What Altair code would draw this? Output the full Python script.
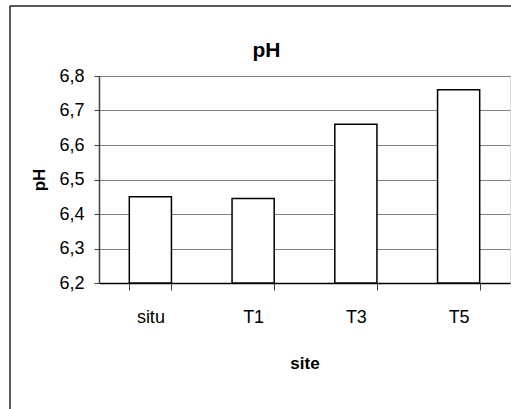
import altair as alt
import pandas as pd

sites = ["situ", "T1", "T3", "T5"]
ph_values = [6.45, 6.445, 6.66, 6.76]
y_ticks = [6.2, 6.3, 6.4, 6.5, 6.6, 6.7, 6.8]
y_base = 6.2

df = pd.DataFrame({"site": sites, "pH": ph_values})

FONT = "Liberation Sans"

bars = alt.Chart(df).mark_bar(
    fill="white", stroke="black", strokeWidth=1.5
).encode(
    x=alt.X(
        "site:N",
        sort=sites,
        scale=alt.Scale(paddingInner=0.59, paddingOuter=0.295),
        axis=alt.Axis(
            title="site",
            labelAngle=0,
            tickBand="extent",
            tickSize=7,
            tickColor="#404040",
            domainColor="black",
            domainWidth=1.5,
            labelPadding=18,
            labelFontSize=18,
            labelFont=FONT,
            labelColor="black",
            titleFont=FONT,
            titleFontSize=17,
            titleFontWeight="bold",
            titleColor="black",
            titlePadding=29,
            grid=False,
        ),
    ),
    y=alt.Y(
        "pH:Q",
        scale=alt.Scale(domain=[6.2, 6.8], nice=False, zero=False),
        axis=alt.Axis(
            title="pH",
            values=y_ticks,
            labelExpr="replace(format(datum.value, '.1f'), '.', ',')",
            tickSize=5,
            tickColor="#404040",
            domainColor="#404040",
            domainWidth=1.5,
            labelPadding=10,
            labelFontSize=18,
            labelFont=FONT,
            labelColor="black",
            titleFont=FONT,
            titleFontSize=17,
            titleFontWeight="bold",
            titleColor="black",
            titlePadding=10,
            grid=True,
            gridColor="#808080",
            gridWidth=1.2,
        ),
    ),
    y2=alt.datum(y_base),
)

frame_data = alt.Data(values=[{}])
left_frame = alt.Chart(frame_data).mark_rule(color="#222222", strokeWidth=1.5).encode(
    x=alt.value(-89), y=alt.value(-70), y2=alt.value(340)
)
top_frame = alt.Chart(frame_data).mark_rule(color="#222222", strokeWidth=1.5).encode(
    x=alt.value(-89), x2=alt.value(420), y=alt.value(-70)
)

chart = alt.layer(left_frame, top_frame, bars).properties(
    width=411,
    height=207,
    title=alt.TitleParams(
        "pH", fontSize=21, fontWeight="bold", font=FONT, color="black",
        anchor="middle", dx=-38, dy=64, offset=8,
    ),
    autosize=alt.AutoSizeParams(type="none"),
    padding={"left": 99, "top": 76, "right": 1, "bottom": 126},
).configure_view(
    stroke="#808080", strokeWidth=1.5
).configure(background="white")

chart.save("out.html", embed_options={"renderer": "svg", "actions": False})
